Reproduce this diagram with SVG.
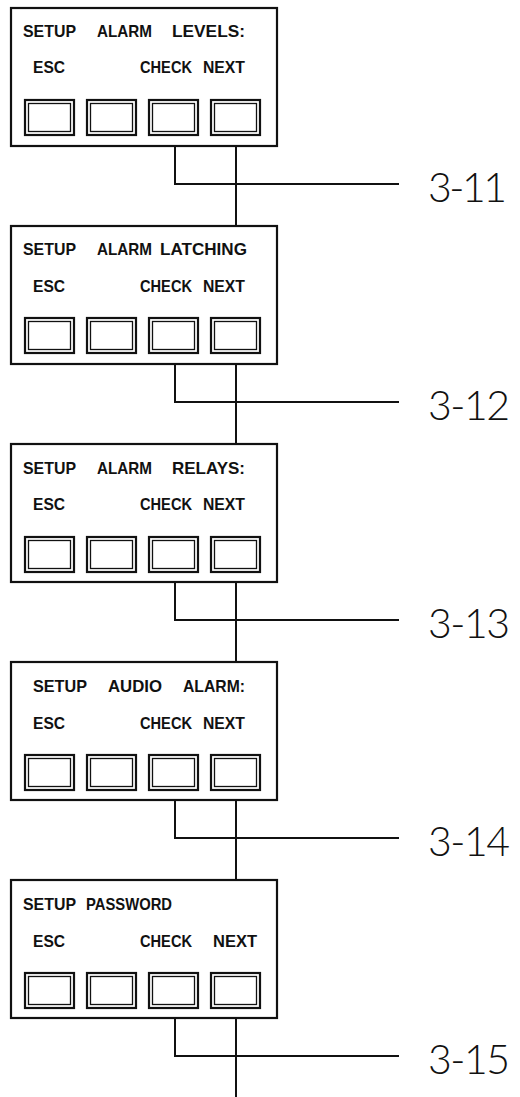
<svg xmlns="http://www.w3.org/2000/svg" width="520" height="1097" viewBox="0 0 520 1097">
<style>
.frame{fill:#fff;stroke:#111;stroke-width:2.2}
.btn{fill:none;stroke:#111;stroke-width:2.2}
.btni{fill:none;stroke:#111;stroke-width:1.3}
.t{font-family:"Liberation Sans",Arial,sans-serif;font-size:16.5px;font-weight:bold;fill:#111}
.lbl{font-family:Lato,"Liberation Sans",Arial,sans-serif;font-size:41px;font-weight:300;fill:#111}
.wire{fill:none;stroke:#111;stroke-width:2}
</style>
<defs>
<g id="btns">
<rect class="btn" x="25" y="0" width="49" height="35"/><rect class="btni" x="28.5" y="3.5" width="42" height="28"/>
<rect class="btn" x="87" y="0" width="49" height="35"/><rect class="btni" x="90.5" y="3.5" width="42" height="28"/>
<rect class="btn" x="149" y="0" width="49" height="35"/><rect class="btni" x="152.5" y="3.5" width="42" height="28"/>
<rect class="btn" x="211" y="0" width="49" height="35"/><rect class="btni" x="214.5" y="3.5" width="42" height="28"/>
</g>
</defs>
<rect x="0" y="0" width="520" height="1097" fill="#fff"/>
<g id="connectors">
<path class="wire" d="M175 146 V184 H399 M236 146 V226"/>
<path class="wire" d="M175 364 V402 H399 M236 364 V444"/>
<path class="wire" d="M175 582 V620 H399 M236 582 V662"/>
<path class="wire" d="M175 800 V838 H399 M236 800 V880"/>
<path class="wire" d="M175 1018 V1056 H399 M236 1018 V1097"/>
</g>
<g id="panel1" transform="translate(0,8)">
<rect class="frame" x="11" y="0" width="266" height="138"/>
<text class="t" y="29"><tspan x="23" textLength="53" lengthAdjust="spacingAndGlyphs">SETUP</tspan><tspan x="97" textLength="55" lengthAdjust="spacingAndGlyphs">ALARM</tspan><tspan x="172" textLength="73" lengthAdjust="spacingAndGlyphs">LEVELS:</tspan></text>
<text class="t" y="65"><tspan x="33" textLength="32" lengthAdjust="spacingAndGlyphs">ESC</tspan><tspan x="140" textLength="52" lengthAdjust="spacingAndGlyphs">CHECK</tspan><tspan x="203" textLength="42" lengthAdjust="spacingAndGlyphs">NEXT</tspan></text>
<use href="#btns" y="92"/>
</g>
<g id="panel2" transform="translate(0,226)">
<rect class="frame" x="11" y="0" width="266" height="138"/>
<text class="t" y="29"><tspan x="23" textLength="53" lengthAdjust="spacingAndGlyphs">SETUP</tspan><tspan x="97" textLength="55" lengthAdjust="spacingAndGlyphs">ALARM</tspan><tspan x="160" textLength="87" lengthAdjust="spacingAndGlyphs">LATCHING</tspan></text>
<text class="t" y="66"><tspan x="33" textLength="32" lengthAdjust="spacingAndGlyphs">ESC</tspan><tspan x="140" textLength="52" lengthAdjust="spacingAndGlyphs">CHECK</tspan><tspan x="203" textLength="42" lengthAdjust="spacingAndGlyphs">NEXT</tspan></text>
<use href="#btns" y="92"/>
</g>
<g id="panel3" transform="translate(0,444)">
<rect class="frame" x="11" y="0" width="266" height="138"/>
<text class="t" y="30"><tspan x="23" textLength="53" lengthAdjust="spacingAndGlyphs">SETUP</tspan><tspan x="97" textLength="55" lengthAdjust="spacingAndGlyphs">ALARM</tspan><tspan x="172" textLength="73" lengthAdjust="spacingAndGlyphs">RELAYS:</tspan></text>
<text class="t" y="66"><tspan x="33" textLength="32" lengthAdjust="spacingAndGlyphs">ESC</tspan><tspan x="140" textLength="52" lengthAdjust="spacingAndGlyphs">CHECK</tspan><tspan x="203" textLength="42" lengthAdjust="spacingAndGlyphs">NEXT</tspan></text>
<use href="#btns" y="93"/>
</g>
<g id="panel4" transform="translate(0,662)">
<rect class="frame" x="11" y="0" width="266" height="138"/>
<text class="t" y="30"><tspan x="33" textLength="54" lengthAdjust="spacingAndGlyphs">SETUP</tspan><tspan x="108" textLength="54" lengthAdjust="spacingAndGlyphs">AUDIO</tspan><tspan x="183" textLength="62" lengthAdjust="spacingAndGlyphs">ALARM:</tspan></text>
<text class="t" y="67"><tspan x="33" textLength="32" lengthAdjust="spacingAndGlyphs">ESC</tspan><tspan x="140" textLength="52" lengthAdjust="spacingAndGlyphs">CHECK</tspan><tspan x="203" textLength="42" lengthAdjust="spacingAndGlyphs">NEXT</tspan></text>
<use href="#btns" y="93"/>
</g>
<g id="panel5" transform="translate(0,880)">
<rect class="frame" x="11" y="0" width="266" height="138"/>
<text class="t" y="30"><tspan x="23" textLength="53" lengthAdjust="spacingAndGlyphs">SETUP</tspan><tspan x="86" textLength="86" lengthAdjust="spacingAndGlyphs">PASSWORD</tspan></text>
<text class="t" y="67"><tspan x="33" textLength="32" lengthAdjust="spacingAndGlyphs">ESC</tspan><tspan x="140" textLength="52" lengthAdjust="spacingAndGlyphs">CHECK</tspan><tspan x="213" textLength="44" lengthAdjust="spacingAndGlyphs">NEXT</tspan></text>
<use href="#btns" y="93"/>
</g>
<g id="labels">
<text class="lbl" x="428" y="202" textLength="79" lengthAdjust="spacing">3-11</text>
<text class="lbl" x="428" y="420" textLength="82" lengthAdjust="spacing">3-12</text>
<text class="lbl" x="428" y="638" textLength="82" lengthAdjust="spacing">3-13</text>
<text class="lbl" x="428" y="856" textLength="82" lengthAdjust="spacing">3-14</text>
<text class="lbl" x="428" y="1074" textLength="82" lengthAdjust="spacing">3-15</text>
</g>
</svg>
